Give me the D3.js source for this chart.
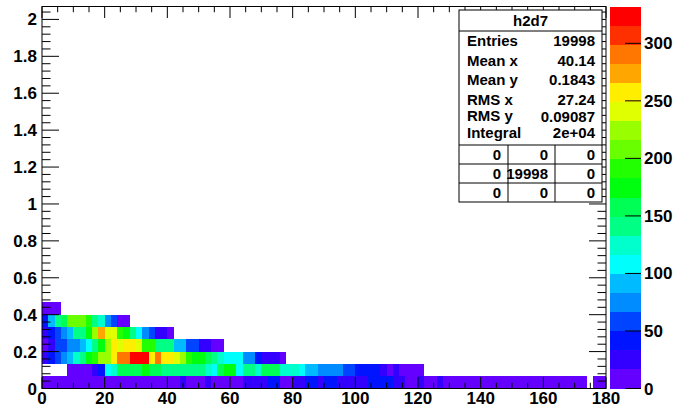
<!DOCTYPE html>
<meta charset="utf-8">
<script src="https://d3js.org/d3.v7.min.js"></script>
<style>
body { margin: 0; background: #fff; }
svg text { font-family: "Liberation Sans", Arial, sans-serif; font-weight: bold; fill: #000; }
</style>
<body></body>
<script>

// histogram binning: 90 bins in x (0..180), bins of 1/15 in y
var xMin = 0, xMax = 180, nBinsX = 90;
var yBin = 1 / 15, yMax = 2.07;
var zMax = 332, nContours = 20;

// bin contents, one array per y row (row0 = lowest), index = x bin
var row0 = [8,8,8,8,8,8,8,8,8,8,8,8,8,8,8,8,8,8,8,8,8,8,25,8,8,8,25,8,8,8,
            8,8,25,25,25,25,42,42,8,8,25,25,42,42,25,42,42,25,25,25,25,25,42,42,42,42,25,25,8,8,
            25,8,8,25,8,8,8,8,8,8,8,8,8,8,8,8,8,8,8,8,8,8,8,8,8,8,8,0,8,8];
var row1 = [0,0,0,0,8,8,8,8,25,42,108,125,158,158,158,158,174,158,158,141,141,141,141,141,141,141,125,108,158,174,
            174,108,141,141,125,158,158,158,125,125,125,108,91,91,75,75,75,75,58,58,42,42,42,42,25,8,25,8,8,8,8];
var row2 = [25,42,58,75,91,125,141,174,191,224,224,257,291,291,324,324,324,257,291,257,257,241,224,191,174,174,158,141,125,108,
            108,108,75,75,42,25,25,25,8];
var row3 = [8,25,58,58,75,75,91,108,141,174,224,257,241,257,257,241,191,191,141,141,141,91,91,58,58,25,25,8,8];
var row4 = [25,42,58,75,91,141,141,174,224,274,241,241,191,174,141,108,75,58,25,25,8];
var row5 = [42,91,141,158,208,208,208,191,141,125,75,58,8,8];
var row6 = [8,8,8];
var rows = [row0, row1, row2, row3, row4, row5, row6];

var xTicks = [0,20,40,60,80,100,120,140,160,180];
var xMinorStep = 5;
var yTicks = [0,0.2,0.4,0.6,0.8,1,1.2,1.4,1.6,1.8,2];
var yMinorStep = 0.04;
var zTicks = [0,50,100,150,200,250,300];

var statsTitle = "h2d7";
var statsNames = ["Entries","Mean x","Mean y","RMS x","RMS y","Integral"];
var statsValues = ["19998","40.14","0.1843","27.24","0.09087","2e+04"];
var overflowGrid = [["0","0","0"],["0","19998","0"],["0","0","0"]];

var width = 677, height = 411;
var svg = d3.select("body").append("svg")
    .attr("width", width)
    .attr("height", height);

var x = d3.scaleLinear().domain([xMin, xMax]).range([42, 606]);
var y = d3.scaleLinear().domain([0, yMax]).range([388.5, 6.5]);
var z = d3.scaleLinear().domain([0, zMax]).range([388.5, 6.5]);

// ROOT "pretty" palette, 50 colours, sampled for 20 contours
function bandColor(j) {
  var i = Math.floor((j + 0.99) * 50 / nContours);
  var hue = 280 - (i + 1) * 5.6;
  return d3.hsl(hue, 1, 0.5).formatHex();
}
function colorOf(v) {
  var j = Math.floor(v / zMax * nContours);
  return bandColor(Math.min(j, nContours - 1));
}

var xw = (xMax - xMin) / nBinsX;
var cells = [];
rows.forEach(function(r, iy) {
  r.forEach(function(v, ix) {
    if (v > 0) cells.push({ix: ix, iy: iy, v: v});
  });
});

svg.append("g").selectAll("rect")
  .data(cells)
  .enter().append("rect")
    .attr("x", function(d) { return x(xMin + d.ix * xw); })
    .attr("y", function(d) { return y((d.iy + 1) * yBin); })
    .attr("width", function(d) { return x(xMin + (d.ix + 1) * xw) - x(xMin + d.ix * xw); })
    .attr("height", function(d) { return y(d.iy * yBin) - y((d.iy + 1) * yBin); })
    .attr("fill", function(d) { return colorOf(d.v); })
    .attr("shape-rendering", "crispEdges");

// frame + ticks on all four sides
var fx0 = x(xMin), fx1 = x(xMax), fy0 = y(0), fy1 = y(yMax);
var ticks = svg.append("g").attr("stroke", "#000").attr("stroke-width", 1);

var xMinor = d3.range(xMin, xMax + 0.001, xMinorStep);
var yMinor = d3.range(0, yMax + 0.0001, yMinorStep);
var xMajLen = 11.5, yMajLen = 17;

xMinor.forEach(function(v) {
  var major = xTicks.indexOf(v) >= 0;
  var len = major ? xMajLen : xMajLen / 2;
  ticks.append("line").attr("x1", x(v)).attr("x2", x(v)).attr("y1", fy0).attr("y2", fy0 - len);
  ticks.append("line").attr("x1", x(v)).attr("x2", x(v)).attr("y1", fy1).attr("y2", fy1 + len);
});
yMinor.forEach(function(v) {
  var major = yTicks.some(function(t) { return Math.abs(t - v) < 1e-6; });
  var len = major ? yMajLen : yMajLen / 2;
  ticks.append("line").attr("x1", fx0).attr("x2", fx0 + len).attr("y1", y(v)).attr("y2", y(v));
  ticks.append("line").attr("x1", fx1).attr("x2", fx1 - len).attr("y1", y(v)).attr("y2", y(v));
});

svg.append("rect")
  .attr("x", fx0).attr("y", fy1)
  .attr("width", fx1 - fx0).attr("height", fy0 - fy1)
  .attr("fill", "none").attr("stroke", "#000");

// axis labels
svg.append("g").selectAll("text")
  .data(xTicks).enter().append("text")
    .attr("x", function(d) { return x(d); })
    .attr("y", 404)
    .attr("text-anchor", "middle")
    .attr("font-size", 17)
    .text(function(d) { return d; });

svg.append("g").selectAll("text")
  .data(yTicks).enter().append("text")
    .attr("x", 37)
    .attr("y", function(d) { return y(d) + 6; })
    .attr("text-anchor", "end")
    .attr("font-size", 17)
    .text(function(d) { return d; });

// palette
var band = zMax / nContours;
svg.append("g").selectAll("rect")
  .data(d3.range(nContours)).enter().append("rect")
    .attr("x", 610).attr("width", 31)
    .attr("y", function(j) { return z((j + 1) * band); })
    .attr("height", function(j) { return z(j * band) - z((j + 1) * band); })
    .attr("fill", function(j) { return bandColor(j); })
    .attr("shape-rendering", "crispEdges");

svg.append("g").selectAll("line")
  .data(zTicks).enter().append("line")
    .attr("x1", 625).attr("x2", 641)
    .attr("y1", function(d) { return z(d); })
    .attr("y2", function(d) { return z(d); })
    .attr("stroke", "#000");

svg.append("g").selectAll("text")
  .data(zTicks).enter().append("text")
    .attr("x", 644)
    .attr("y", function(d) { return z(d) + 6; })
    .attr("font-size", 17)
    .text(function(d) { return d; });

// stats box
var sb = {x0: 459, x1: 602, y0: 10, y1: 202};
var fs = 15;
var stats = svg.append("g");
stats.append("rect")
  .attr("x", sb.x0).attr("y", sb.y0)
  .attr("width", sb.x1 - sb.x0).attr("height", sb.y1 - sb.y0)
  .attr("fill", "#fff").attr("stroke", "#000");
stats.append("line").attr("x1", sb.x0).attr("x2", sb.x1).attr("y1", 31).attr("y2", 31).attr("stroke", "#000");
stats.append("text")
  .attr("x", (sb.x0 + sb.x1) / 2).attr("y", 26)
  .attr("text-anchor", "middle").attr("font-size", fs)
  .text(statsTitle);

var lineY = [46, 66, 85, 105, 121, 138];
statsNames.forEach(function(n, i) {
  stats.append("text").attr("x", 467).attr("y", lineY[i]).attr("font-size", fs).text(n);
  stats.append("text").attr("x", 595).attr("y", lineY[i] + (i == 4 ? 1 : 0))
    .attr("text-anchor", "end").attr("font-size", fs).text(statsValues[i]);
});

var gridTop = 145, rowH = 19;
var colX = [459, 508, 555, 602];
overflowGrid.forEach(function(r, i) {
  stats.append("line").attr("x1", sb.x0).attr("x2", sb.x1)
    .attr("y1", gridTop + i * rowH).attr("y2", gridTop + i * rowH).attr("stroke", "#000");
  r.forEach(function(v, k) {
    stats.append("text")
      .attr("x", colX[k + 1] - 7).attr("y", gridTop + i * rowH + 15)
      .attr("text-anchor", "end").attr("font-size", fs).text(v);
  });
});
[1, 2].forEach(function(k) {
  stats.append("line").attr("x1", colX[k]).attr("x2", colX[k])
    .attr("y1", gridTop).attr("y2", sb.y1).attr("stroke", "#000");
});

</script>
